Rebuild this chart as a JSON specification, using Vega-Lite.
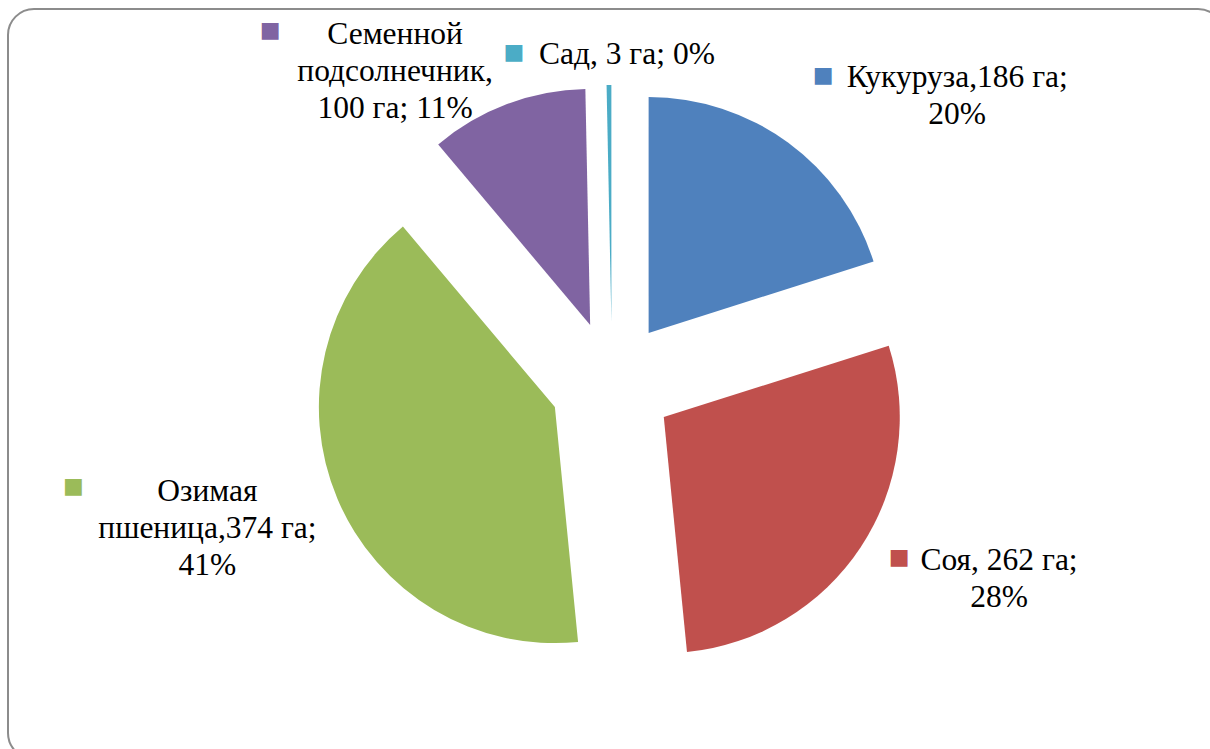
{
  "$schema": "https://vega.github.io/schema/vega-lite/v6.json",
  "width": 1202,
  "height": 740,
  "autosize": {"type": "none"},
  "padding": {"left": 8, "top": 9, "right": 0, "bottom": 0},
  "background": "white",
  "config": {"view": {"stroke": null}},
  "data": {"values": [
    {"crop": "Кукуруза", "area": 186, "label": "Кукуруза,186 га;\n20%", "order": 1},
    {"crop": "Соя", "area": 262, "label": "Соя, 262 га;\n28%", "order": 2},
    {"crop": "Озимая пшеница", "area": 374, "label": "Озимая\nпшеница,374 га;\n41%", "order": 3},
    {"crop": "Семенной подсолнечник", "area": 100, "label": "Семенной\nподсолнечник,\n100 га; 11%", "order": 4},
    {"crop": "Сад", "area": 3, "label": "Сад, 3 га; 0%", "order": 5}
  ]},
  "layer": [
    {
      "data": {"values": [{}]},
      "mark": {"type": "rect", "fill": null, "stroke": "#8c8c8c", "strokeWidth": 2, "cornerRadius": 26},
      "encoding": {
        "x": {"value": 0},
        "y": {"value": 0},
        "x2": {"value": {"expr": "width+14"}},
        "y2": {"value": {"expr": "height+10"}}
      }
    },
    {
      "encoding": {
        "theta": {"field": "area", "type": "quantitative", "stack": true},
        "order": {"field": "order", "type": "quantitative"},
        "color": {
          "field": "crop",
          "type": "nominal",
          "scale": {
            "domain": ["Кукуруза", "Соя", "Озимая пшеница", "Семенной подсолнечник", "Сад"],
            "range": ["#4F81BD", "#C0504D", "#9BBB59", "#8064A2", "#4BACC6"]
          },
          "legend": null
        }
      },
      "layer": [
        {
          "mark": {
            "type": "arc",
            "radius": 236,
            "stroke": null,
            "xOffset": {"expr": "3+62*sin(scale('theta',(datum.area_start+datum.area_end)/2))"},
            "yOffset": {"expr": "4-62*cos(scale('theta',(datum.area_start+datum.area_end)/2))"}
          }
        },
        {
          "mark": {
            "type": "text",
            "radius": 400,
            "font": "Liberation Serif, Times New Roman, serif",
            "fontSize": 31.5,
            "lineHeight": 37,
            "lineBreak": "\n",
            "align": "center",
            "baseline": "middle",
            "xOffset": {"expr": "[112,56,-33,-73,22][datum.order-1]"},
            "yOffset": {"expr": "[22,-38,-42,30,76][datum.order-1]"}
          },
          "encoding": {
            "text": {"field": "label", "type": "nominal"},
            "color": {"value": "black"}
          }
        },
        {
          "mark": {
            "type": "text",
            "text": "■",
            "radius": 400,
            "font": "DejaVu Sans",
            "fontSize": 22,
            "align": "center",
            "baseline": "middle",
            "xOffset": {"expr": "[-22,-44,-167,-198,-91][datum.order-1]"},
            "yOffset": {"expr": "[19,-42,-48,25,73][datum.order-1]"}
          }
        }
      ]
    }
  ]
}
